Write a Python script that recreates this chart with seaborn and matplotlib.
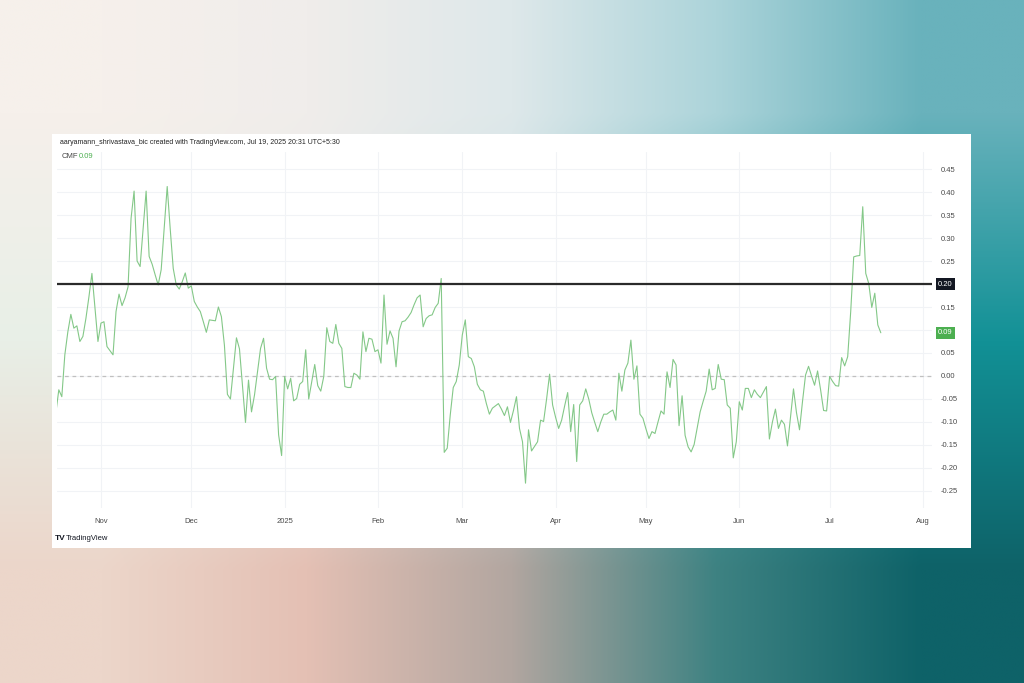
import numpy as np
import pandas as pd
import matplotlib
matplotlib.use("Agg")
import matplotlib.pyplot as plt
import matplotlib.transforms as mtransforms
import seaborn as sns

# === DATA (daily CMF) ===
START_DATE = "2024-10-17"
CMF_OCT = [-0.081, -0.030, -0.045, 0.046, 0.096, 0.134, 0.104, 0.109, 0.075, 0.086,
           0.125, 0.172, 0.223, 0.150, 0.075]
CMF_NOV = [0.115, 0.118, 0.064, 0.055, 0.046, 0.140, 0.178, 0.153, 0.170, 0.194,
           0.343, 0.402, 0.250, 0.238, 0.320, 0.402, 0.260, 0.243, 0.220, 0.198,
           0.231, 0.320, 0.412, 0.320, 0.234, 0.198, 0.189, 0.205, 0.224, 0.191]
CMF_DEC = [0.196, 0.162, 0.150, 0.140, 0.118, 0.095, 0.122, 0.121, 0.120, 0.150,
           0.129, 0.067, -0.040, -0.050, 0.017, 0.083, 0.059, -0.020, -0.101, -0.009,
           -0.078, -0.041, 0.010, 0.060, 0.082, 0.017, -0.007, -0.008, -0.001, -0.128,
           -0.173]
CMF_JAN = [-0.001, -0.028, -0.005, -0.054, -0.049, -0.018, -0.012, 0.057, -0.050,
           -0.012, 0.025, -0.021, -0.033, -0.001, 0.105, 0.075, 0.071, 0.112, 0.071,
           0.060, -0.023, -0.025, -0.025, 0.006, 0.002, -0.007, 0.096, 0.053, 0.082,
           0.080, 0.053]
CMF_FEB = [0.057, 0.028, 0.176, 0.069, 0.098, 0.082, 0.020, 0.098,
           0.118, 0.120, 0.128, 0.138, 0.155, 0.170, 0.176, 0.107, 0.125, 0.131,
           0.133, 0.149, 0.158, 0.212, -0.166, -0.157, -0.085, -0.025, -0.012, 0.024]
CMF_MAR = [0.089, 0.122, 0.042, 0.038, 0.020, -0.018, -0.030, -0.033, -0.060, -0.083,
           -0.070, -0.065, -0.060, -0.072, -0.086, -0.067, -0.101, -0.075, -0.045, -0.114,
           -0.143, -0.233, -0.117, -0.163, -0.153, -0.143, -0.096, -0.099, -0.050, 0.004,
           -0.063]
CMF_APR = [-0.090, -0.114, -0.096, -0.065, -0.036, -0.121, -0.062, -0.186, -0.063,
           -0.054, -0.028, -0.050, -0.080, -0.101, -0.121, -0.100, -0.083, -0.083, -0.078,
           -0.074, -0.096, 0.006, -0.033, 0.013, 0.028, 0.078, -0.007, 0.022, -0.083,
           -0.092]
CMF_MAY = [-0.115, -0.136, -0.121, -0.125, -0.100, -0.076, -0.083, 0.009, -0.025,
           0.036, 0.024, -0.108, -0.043, -0.129, -0.154, -0.165, -0.149, -0.114, -0.078,
           -0.055, -0.033, 0.015, -0.030, -0.027, 0.025, -0.007, -0.008, -0.063, -0.070,
           -0.178, -0.143]
CMF_JUN = [-0.056, -0.074, -0.027, -0.027, -0.047, -0.030, -0.040, -0.047,
           -0.035, -0.023, -0.137, -0.100, -0.072, -0.114, -0.096, -0.105, -0.152, -0.090,
           -0.028, -0.080, -0.117, -0.055, 0.002, 0.021, 0.000, -0.020, 0.011, -0.030,
           -0.075, -0.076]
CMF_JUL = [-0.001, -0.012, -0.021, -0.022, 0.040, 0.022, 0.042, 0.140,
           0.259, 0.261, 0.262, 0.368, 0.223, 0.201, 0.149, 0.180, 0.111, 0.094]

LEVEL = 0.20
Y_TICKS = [-0.25, -0.20, -0.15, -0.10, -0.05, 0.00, 0.05, 0.10, 0.15, 0.20, 0.25, 0.30, 0.35, 0.40, 0.45]
X_TICK_DATES = ["2024-11-01", "2024-12-01", "2025-01-01", "2025-02-01", "2025-03-01",
                "2025-04-01", "2025-05-01", "2025-06-01", "2025-07-01", "2025-08-01"]
X_TICK_LABELS = ["Nov", "Dec", "2025", "Feb", "Mar", "Apr", "May", "Jun", "Jul", "Aug"]
TITLE = "aaryamann_shrivastava_bic created with TradingView.com, Jul 19, 2025 20:31 UTC+5:30"

cmf = CMF_OCT + CMF_NOV + CMF_DEC + CMF_JAN + CMF_FEB + CMF_MAR + CMF_APR + CMF_MAY + CMF_JUN + CMF_JUL
df = pd.DataFrame({"date": pd.date_range(START_DATE, periods=len(cmf), freq="D"), "cmf": cmf})
last = cmf[-1]

# === STYLE ===
sns.set_theme(style="white")
plt.rcParams["font.family"] = ["Liberation Sans Narrow", "Liberation Sans", "DejaVu Sans"]

W, H = 1024, 683
fig = plt.figure(figsize=(W / 100, H / 100), dpi=100)

# background gradient (teal on the right, cream / pink on the left)
bg_colors = np.array([
    [[246, 240, 235], [240, 237, 235], [222, 232, 234], [172, 212, 218], [105, 178, 188]],
    [[232, 239, 231], [230, 234, 230], [198, 222, 224], [65, 162, 168], [18, 145, 150]],
    [[236, 214, 202], [228, 192, 180], [178, 166, 160], [62, 130, 130], [14, 98, 104]],
]) / 255.0
bg = fig.add_axes([0, 0, 1, 1])
bg.imshow(bg_colors, aspect="auto", interpolation="bilinear", extent=[0, 1, 0, 1])
bg.axis("off")

def px_box(x0, y0, x1, y1):
    return [x0 / W, 1 - y1 / H, (x1 - x0) / W, (y1 - y0) / H]

card = fig.add_axes(px_box(52, 134, 971, 548))
card.set_facecolor("white")
card.set_xticks([]); card.set_yticks([])
for s in card.spines.values():
    s.set_visible(False)

ax = fig.add_axes(px_box(57, 152, 932, 508))
ax.set_facecolor("white")

sns.lineplot(data=df, x="date", y="cmf", ax=ax, color="#84c888", linewidth=0.8, zorder=3)

ax.axhline(LEVEL, color="#2a2a2a", linewidth=1.6, zorder=4)
ax.axhline(0.0, color="#c0c0c0", linewidth=0.9, linestyle=(0, (3, 3)), zorder=2)

x0 = pd.Timestamp("2024-11-01") - pd.Timedelta(days=14.6)
x1 = pd.Timestamp("2024-11-01") + pd.Timedelta(days=276)
ax.set_xlim(x0, x1)
ax.set_ylim(-0.287, 0.487)

# 0.20 and 0.10 sit under the price boxes, so their plain labels are left blank
ax.set_yticks(Y_TICKS)
ax.set_yticklabels(["" if v in (0.10, 0.20) else f"{v:.2f}" for v in Y_TICKS])
ax.yaxis.tick_right()
ax.set_xticks(pd.to_datetime(X_TICK_DATES))
ax.set_xticklabels(X_TICK_LABELS)
ax.tick_params(axis="both", length=0, labelsize=5.5, colors="#4a4a4a")
ax.tick_params(axis="y", pad=6)
ax.tick_params(axis="x", pad=7)
ax.grid(True, color="#f1f3f6", linewidth=0.8)
ax.set_xlabel("")
ax.set_ylabel("")
for s in ax.spines.values():
    s.set_visible(False)

trans = mtransforms.blended_transform_factory(ax.transAxes, ax.transData)
ax.text(1.007, LEVEL, f"{LEVEL:.2f}", transform=trans, fontsize=5.5, color="white",
        va="center", ha="left", zorder=6, clip_on=False,
        bbox=dict(boxstyle="square,pad=0.3", fc="#131722", ec="none"))
ax.text(1.007, last, f"{last:.2f}", transform=trans, fontsize=5.5, color="white",
        va="center", ha="left", zorder=6, clip_on=False,
        bbox=dict(boxstyle="square,pad=0.3", fc="#4caf50", ec="none"))

fig.text(60 / W, 1 - 142 / H, TITLE, fontsize=5.0, color="#222222", va="center", ha="left")
fig.text(62 / W, 1 - 157 / H, "CMF", fontsize=5.5, color="#444444", va="center", ha="left")
fig.text(79 / W, 1 - 157 / H, f"{last:.2f}", fontsize=5.5, color="#4caf50", va="center", ha="left")
fig.text(55 / W, 1 - 538 / H, "TV", fontsize=6, color="#131722", weight="bold", va="center", ha="left")
fig.text(66 / W, 1 - 538 / H, "TradingView", fontsize=5.5, color="#131722", va="center", ha="left")

fig.savefig("out.png", dpi=100)
